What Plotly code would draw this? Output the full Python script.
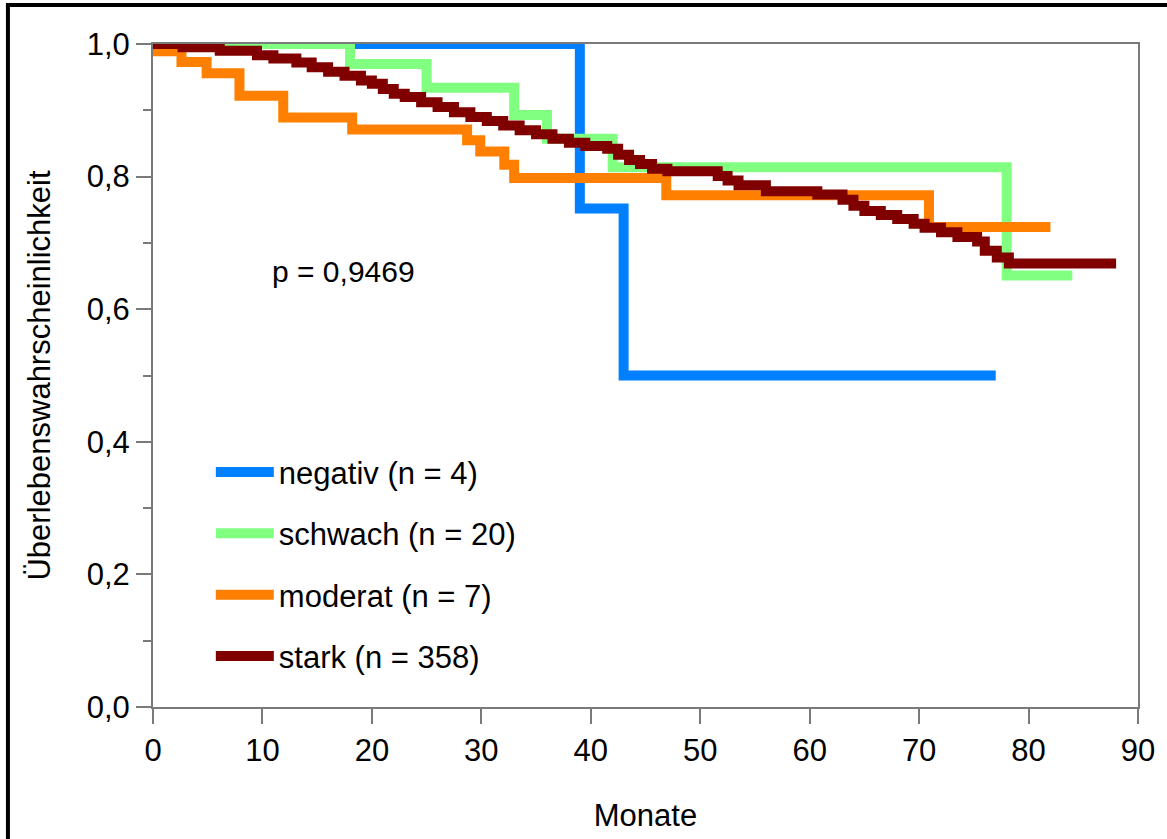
import plotly.graph_objects as go

# ---- data ----
names = ["negativ (n = 4)", "schwach (n = 20)", "moderat (n = 7)", "stark (n = 358)"]
colors = ["#0080FF", "#80FF80", "#FF8000", "#800000"]

neg_t = [0, 39, 43, 77]
neg_s = [1.0, 0.752, 0.50, 0.50]

schw_t = [0, 18, 25, 33, 36, 42, 78, 84]
schw_s = [1.0, 0.970, 0.934, 0.893, 0.857, 0.814, 0.651, 0.651]

mod_t = [0, 2.6, 4.9, 7.9, 11.9, 18.2, 28.7, 29.9, 32.1, 33, 46.9, 70.9, 82]
mod_s = [0.989, 0.973, 0.956, 0.922, 0.889, 0.871, 0.855, 0.838, 0.818, 0.798, 0.772, 0.724, 0.724]

stark_t = [0, 2.7, 6.1, 9.5, 11, 13.1, 14.5, 16, 17.5, 19, 20, 21, 22, 23, 24.5, 26, 27.5,
           29, 30.5, 32, 33.5, 35, 36.5, 38, 39.5, 41.5, 42.5, 43.5, 44.5, 45.6, 47, 51.6,
           52.5, 53.5, 56, 60.7, 63, 64, 65, 66.5, 68, 69.5, 70.5, 72, 73.5, 75.3, 76,
           77.1, 78.2, 88]
stark_s = [1.0, 0.995, 0.990, 0.983, 0.978, 0.972, 0.965, 0.958, 0.952, 0.945, 0.940, 0.932,
           0.925, 0.920, 0.912, 0.905, 0.897, 0.890, 0.884, 0.877, 0.870, 0.864, 0.857, 0.851,
           0.846, 0.842, 0.833, 0.825, 0.819, 0.812, 0.808, 0.801, 0.794, 0.787, 0.778, 0.773,
           0.765, 0.756, 0.748, 0.742, 0.736, 0.729, 0.723, 0.716, 0.709, 0.702, 0.688, 0.678,
           0.669, 0.669]

series_t = [neg_t, schw_t, mod_t, stark_t]
series_s = [neg_s, schw_s, mod_s, stark_s]

x_ticks = [0, 10, 20, 30, 40, 50, 60, 70, 80, 90]
y_ticks = [0.0, 0.2, 0.4, 0.6, 0.8, 1.0]
y_ticklabels = ["0,0", "0,2", "0,4", "0,6", "0,8", "1,0"]

p_text = "p = 0,9469"
x_title = "Monate"
y_title = "Überlebenswahrscheinlichkeit"

FONT = "Liberation Sans, Arial, sans-serif"
AX = "#7a7a7a"

fig = go.Figure()
for i, (t, s) in enumerate(zip(series_t, series_s)):
    fig.add_trace(go.Scatter(
        x=t, y=s, mode="lines", name=names[i],
        line=dict(color=colors[i], width=10, shape="hv"),
        legendgroup=f"g{i}", hoverinfo="skip",
    ))

W, H = 1167, 839
L, R, T, B = 153, 26, 44, 131
pw, ph = W - L - R, H - T - B

def px(x):
    return (x - L) / pw

def py(y):
    return (H - B - y) / ph

fig.update_layout(
    width=W, height=H,
    margin=dict(l=L, r=R, t=T, b=B, pad=0),
    paper_bgcolor="white", plot_bgcolor="white",
    font=dict(family=FONT, size=30, color="black"),
    showlegend=True,
    legend=dict(
        x=px(211), y=py(446), xanchor="left", yanchor="top",
        bgcolor="rgba(0,0,0,0)", borderwidth=0,
        font=dict(family=FONT, size=31, color="black"),
        itemwidth=58, tracegroupgap=18, traceorder="grouped",
    ),
    xaxis=dict(
        range=[0, 90], tickvals=x_ticks, ticktext=[str(v) for v in x_ticks],
        showgrid=False, zeroline=False,
        showline=True, linecolor=AX, linewidth=2, mirror=True,
        ticks="outside", ticklen=15, tickwidth=2, tickcolor=AX,
        tickfont=dict(family=FONT, size=31, color="black"),
        title=dict(text=x_title, font=dict(family=FONT, size=31, color="black"), standoff=37),
        fixedrange=True,
    ),
    yaxis=dict(
        range=[0, 1], tickvals=y_ticks, ticktext=y_ticklabels,
        showgrid=False, zeroline=False,
        showline=True, linecolor=AX, linewidth=2, mirror=True,
        ticks="outside", ticklen=15, tickwidth=2, tickcolor=AX,
        tickfont=dict(family=FONT, size=31, color="black"),
        minor=dict(tickvals=[0.1, 0.3, 0.5, 0.7, 0.9], ticks="outside", ticklen=8,
                   tickwidth=2, tickcolor=AX, showgrid=False),
        title=dict(text=y_title, font=dict(family=FONT, size=31, color="black"), standoff=27),
        fixedrange=True,
    ),
    annotations=[dict(
        text=p_text, x=px(270), y=py(272), xref="paper", yref="paper",
        xanchor="left", yanchor="middle", showarrow=False,
        font=dict(family=FONT, size=30, color="black"),
    )],
    shapes=[
        dict(type="line", xref="paper", yref="paper", x0=px(7.5), x1=px(7.5),
             y0=py(H + 5), y1=py(5), line=dict(color="black", width=4)),
        dict(type="line", xref="paper", yref="paper", x0=px(5.5), x1=px(W + 5),
             y0=py(5), y1=py(5), line=dict(color="black", width=4)),
    ],
)

fig.write_html("out.html")
